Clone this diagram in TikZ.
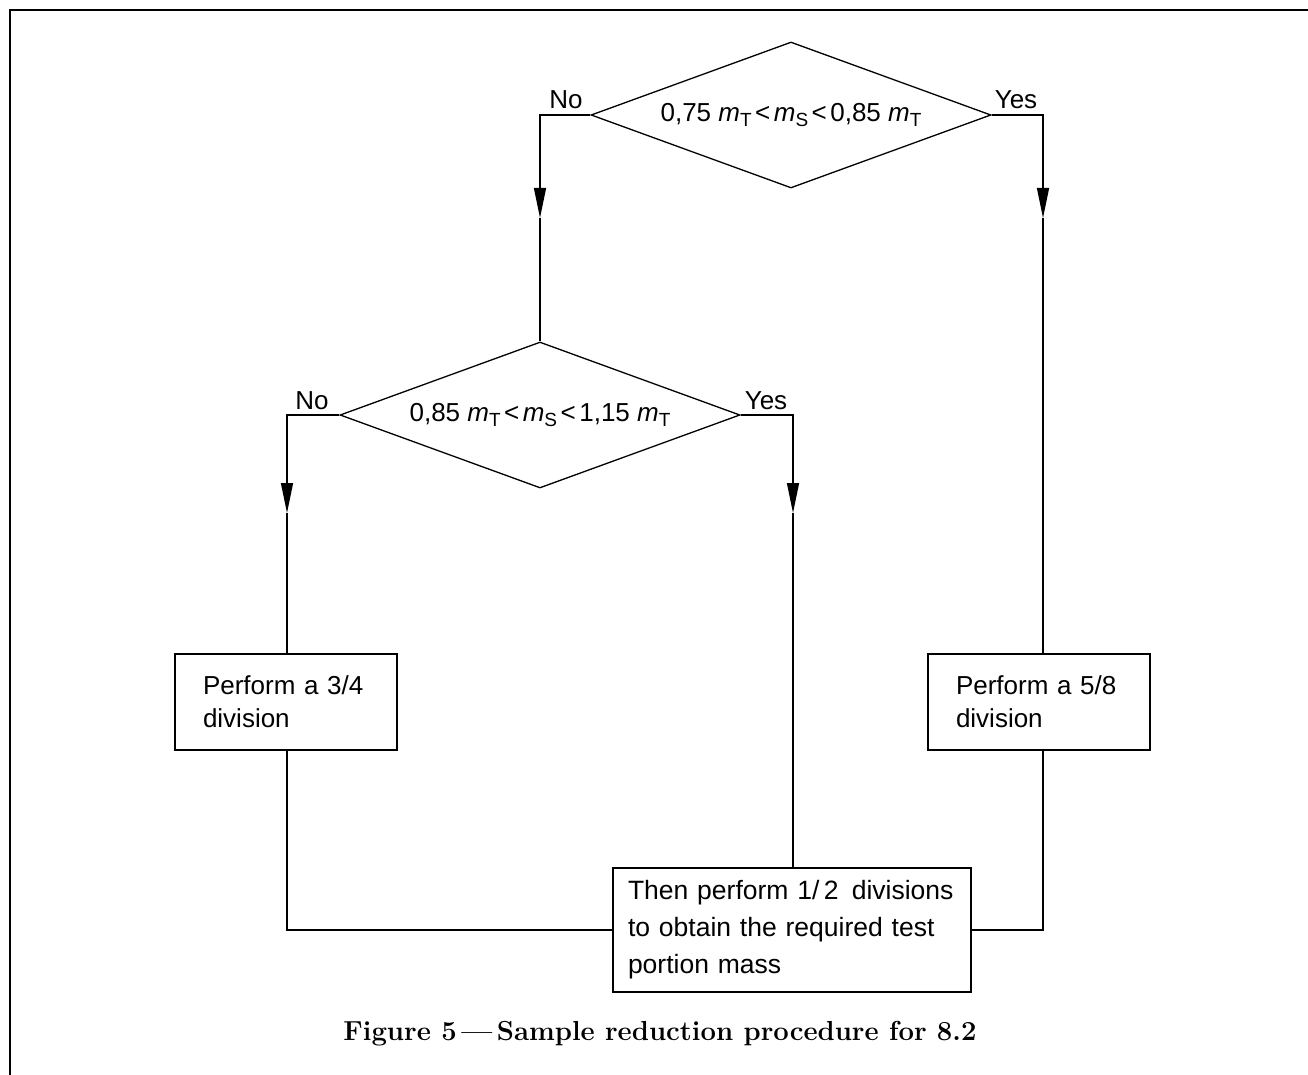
\documentclass[tikz,border=0pt]{standalone}
\usepackage{fontspec}
\usetikzlibrary{shapes.geometric,arrows.meta}
\newfontfamily\sansf{Liberation Sans}
\newcommand\msub[1]{\textit{m}\raisebox{-0.4ex}{\fontsize{19}{19}\selectfont #1}}
\newcommand\lt{\hspace{3.5pt}<\hspace{3.5pt}}
\begin{document}
\begin{tikzpicture}[x=1pt,y=-1pt,
  every node/.style={font=\sansf\fontsize{26}{33}\selectfont},
  ln/.style={line width=1.3pt},
  arr/.style={ln,-{Triangle[length=30pt,width=12pt]}},
  dec/.style={draw,ln,shape=diamond,aspect=2.74,minimum width=400pt,minimum height=146pt,inner sep=0pt},
  procbox/.style={draw,ln,rectangle,align=left},
  lbl/.style={inner sep=0pt,anchor=base}]
\useasboundingbox (0,0) rectangle (1308,1075);
% frame
\draw[line width=2.2pt] (10,1075) -- (10,10) -- (1308,10);
% decisions
\node[dec] (d1) at (791,115) {0,75 \msub{T}\lt\msub{S}\lt0,85 \msub{T}};
\node[dec] (d2) at (540,415) {0,85 \msub{T}\lt\msub{S}\lt1,15 \msub{T}};
% boxes
\node[procbox,minimum width=222pt,minimum height=96pt,text width=166pt,inner xsep=28pt] (b1) at (286,702) {Perform a 3/4\\division};
\node[procbox,minimum width=222pt,minimum height=96pt,text width=166pt,inner xsep=27pt] (b2) at (1039,702) {Perform a 5/8\\division};
\node[procbox,minimum width=358pt,minimum height=124pt,text width=328pt,inner xsep=15pt,font=\sansf\fontsize{26.5}{37}\selectfont] (b3) at (792,930) {Then perform 1/\thinspace2\enspace divisions\\to obtain the required test\\portion mass};
% labels
\node[lbl] (n1) at (566,109) {No};
\node[lbl] (y1) at (1016,109) {Yes};
\node[lbl] (n2) at (312,409) {No};
\node[lbl] (y2) at (766,409) {Yes};
% arrow tip coordinates
\coordinate (a1) at (540,218);
\coordinate (a2) at (1043,218);
\coordinate (a3) at (287,513);
\coordinate (a4) at (793,513);
% connectors
\draw[arr] (d1.west) -| (a1);
\draw[ln] (a1) -- (d2.north);
\draw[arr] (d1.east) -| (a2);
\draw[ln] (a2) -- (a2 |- b2.north);
\draw[arr] (d2.west) -| (a3);
\draw[ln] (a3) -- (a3 |- b1.north);
\draw[arr] (d2.east) -| (a4);
\draw[ln] (a4) -- (a4 |- b3.north);
\draw[ln] (b1.south -| a3) |- (b3.west);
\draw[ln] (b2.south -| a2) |- (b3.east);
% caption
\node[font=\fontsize{27.5}{32}\selectfont\bfseries] (cap) at (660,1034) {Figure 5\,—\,Sample reduction procedure for 8.2};
\end{tikzpicture}
\end{document}
